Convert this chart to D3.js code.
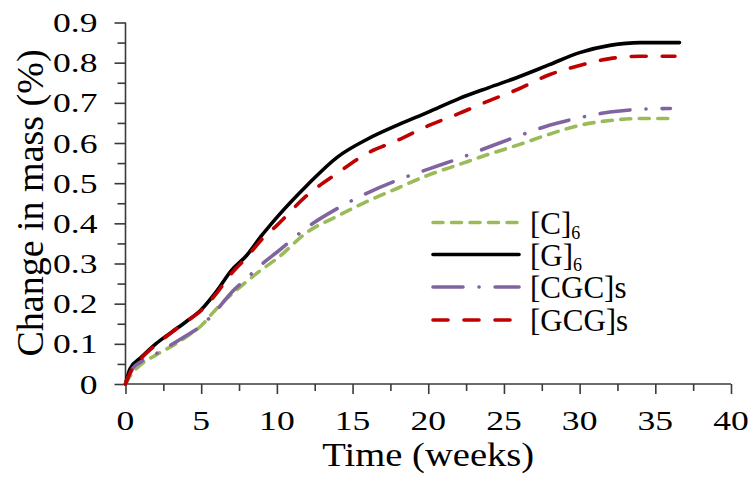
<!DOCTYPE html>
<html>
<head>
<meta charset="utf-8">
<script src="https://cdn.jsdelivr.net/npm/d3@7"></script>
<style>
  html, body { margin: 0; padding: 0; background: #fff; }
  svg { display: block; }
  text { font-family: "Liberation Serif", "Times New Roman", serif; fill: #000; }
</style>
</head>
<body>
<svg id="chart" width="751" height="477"></svg>
<script>
// Mass change over time for four sequences
const weeksC   = [0, 0.5, 1, 2, 3, 4, 5, 6, 7, 8, 9, 10, 12, 14, 16, 18, 20, 22, 24, 26, 28, 30, 32, 34, 36.3];
const massC    = [0, 0.03, 0.048, 0.072, 0.093, 0.117, 0.145, 0.187, 0.223, 0.255, 0.285, 0.312, 0.378, 0.418, 0.455, 0.488, 0.52, 0.546, 0.572, 0.596, 0.622, 0.644, 0.656, 0.661, 0.661];

const weeksG   = [0, 0.3, 1, 2, 3, 4, 5, 6, 7, 8, 9, 10, 12, 14, 16, 18, 20, 22, 24, 26, 28, 30, 32, 34, 36.6];
const massG    = [0, 0.038, 0.065, 0.1, 0.128, 0.155, 0.185, 0.23, 0.283, 0.32, 0.37, 0.415, 0.495, 0.565, 0.61, 0.645, 0.677, 0.71, 0.738, 0.765, 0.795, 0.825, 0.843, 0.85, 0.85];

const weeksCGC = [0, 0.5, 1, 2, 3, 4, 5, 6, 7, 8, 9, 10, 12, 14, 16, 18, 20, 22, 24, 26, 28, 30, 32, 34, 36];
const massCGC  = [0, 0.04, 0.055, 0.075, 0.097, 0.12, 0.145, 0.183, 0.228, 0.263, 0.298, 0.328, 0.39, 0.437, 0.476, 0.508, 0.535, 0.561, 0.59, 0.618, 0.644, 0.663, 0.677, 0.684, 0.686];

const weeksGCG = [0, 0.3, 1, 2, 3, 4, 5, 6, 7, 8, 9, 10, 12, 14, 16, 18, 20, 22, 24, 26, 28, 30, 32, 34, 36.3];
const massGCG  = [0, 0.028, 0.062, 0.097, 0.127, 0.155, 0.183, 0.225, 0.275, 0.315, 0.36, 0.395, 0.47, 0.525, 0.575, 0.607, 0.643, 0.673, 0.705, 0.735, 0.77, 0.793, 0.81, 0.816, 0.816];

const seriesNames = ["C", "G", "CGC", "GCG"];
const xTicks = [0, 5, 10, 15, 20, 25, 30, 35, 40];
const yTicks = [0, 0.1, 0.2, 0.3, 0.4, 0.5, 0.6, 0.7, 0.8, 0.9];
const xTitle = "Time (weeks)";
const yTitle = "Change in mass (%)";

const series = [
  { name: "C",   x: weeksC,   y: massC,   color: "#9BBB59", dash: "10,8.5",       sub: "6", suffix: "" },
  { name: "G",   x: weeksG,   y: massG,   color: "#000000", dash: null,           sub: "6", suffix: "" },
  { name: "CGC", x: weeksCGC, y: massCGC, color: "#8064A2", dash: "30,16,0.1,16", sub: "",  suffix: "s" },
  { name: "GCG", x: weeksGCG, y: massGCG, color: "#C00000", dash: "15,16",        sub: "",  suffix: "s" }
];

const svg = d3.select("#chart");
const plotLeft = 125.5, plotRight = 731, plotTop = 22.5, plotBottom = 384;
const tickStretch = 1.27;   // tick labels are drawn slightly wide
const titleStretch = 1.17;

const x = d3.scaleLinear().domain([0, 40]).range([plotLeft, plotRight]);
const y = d3.scaleLinear().domain([0, 0.9]).range([plotBottom, plotTop]);

const axisColor = "#3a3a3a";

// minor ticks every 2.5 weeks / 0.05
const xMinor = d3.range(0, 40.01, 2.5);
const yMinor = d3.range(0, 0.901, 0.05);

const gx = svg.append("g").attr("transform", `translate(0,${plotBottom})`);
gx.call(d3.axisBottom(x).tickValues(xMinor).tickSize(7).tickFormat(""));
gx.selectAll(".tick line").filter(d => Math.abs(d % 5) < 1e-6).attr("y2", 10);
gx.selectAll("path, line").attr("stroke", axisColor).attr("stroke-width", 1.6);
gx.select(".domain").attr("d", `M${plotLeft},0H${plotRight}`);
gx.selectAll(".xlab").data(xTicks).enter().append("text")
  .attr("class", "xlab")
  .attr("transform", d => `translate(${x(d)},46) scale(${tickStretch},1)`)
  .attr("text-anchor", "middle")
  .attr("font-size", 28)
  .text(d => d);

const gy = svg.append("g").attr("transform", `translate(${plotLeft},0)`);
gy.call(d3.axisLeft(y).tickValues(yMinor).tickSize(8).tickFormat(""));
gy.selectAll(".tick line").filter(d => Math.round(d * 20) % 2 === 0).attr("x2", -11);
gy.selectAll("path, line").attr("stroke", axisColor).attr("stroke-width", 1.6);
gy.select(".domain").attr("d", `M0,${plotBottom}V${plotTop}`);
gy.selectAll(".ylab").data(yTicks).enter().append("text")
  .attr("class", "ylab")
  .attr("transform", d => `translate(-28,${y(d) + 9.5}) scale(${tickStretch},1)`)
  .attr("text-anchor", "end")
  .attr("font-size", 28)
  .text(d => d === 0 ? "0" : d3.format(".1f")(d));

// axis titles
svg.append("text")
  .attr("transform", `translate(${(plotLeft + plotRight) / 2},466) scale(${titleStretch},1)`)
  .attr("text-anchor", "middle")
  .attr("font-size", 33)
  .text(xTitle);

svg.append("text")
  .attr("transform", `translate(43,203) rotate(-90)`)
  .attr("text-anchor", "middle")
  .attr("font-size", 38)
  .text(yTitle);

// curves
const line = d3.line().x(d => x(d[0])).y(d => y(d[1])).curve(d3.curveMonotoneX);
svg.append("g").selectAll("path").data(series).enter().append("path")
  .attr("d", s => line(s.x.map((v, i) => [v, s.y[i]])))
  .attr("fill", "none")
  .attr("stroke", s => s.color)
  .attr("stroke-width", 3.6)
  .attr("stroke-linecap", "round")
  .attr("stroke-dasharray", s => s.dash);

// legend
const legend = svg.append("g");
const rowY = [222.5, 254.5, 287, 320];
series.forEach((s, i) => {
  legend.append("line")
    .attr("x1", 433).attr("x2", 519)
    .attr("y1", rowY[i]).attr("y2", rowY[i])
    .attr("stroke", s.color)
    .attr("stroke-width", 3.6)
    .attr("stroke-linecap", "round")
    .attr("stroke-dasharray", s.dash);
  const t = legend.append("text")
    .attr("x", 530).attr("y", rowY[i] + 11)
    .attr("font-size", 31);
  t.append("tspan").text(`[${s.name}]${s.suffix}`);
  if (s.sub) t.append("tspan").attr("font-size", 18).attr("dy", 5).text(s.sub);
});
</script>
</body>
</html>
